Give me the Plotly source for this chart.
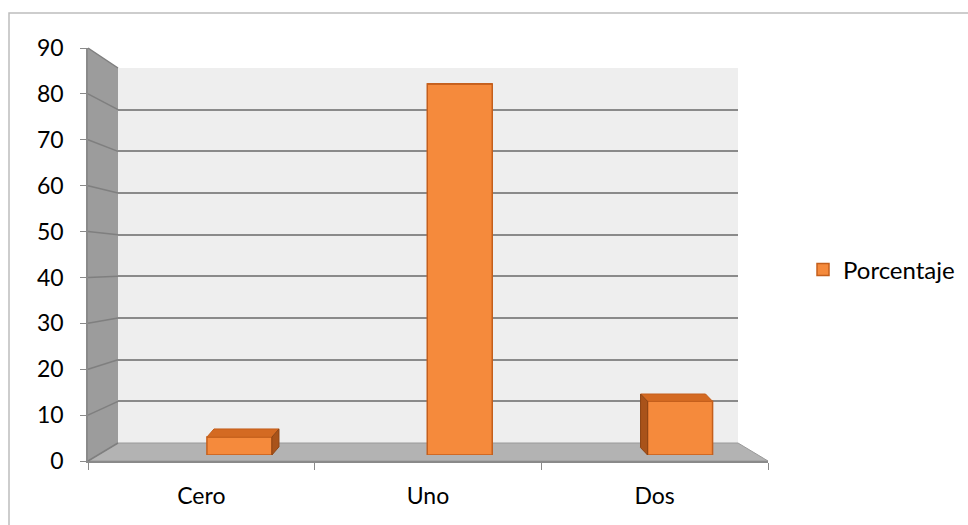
import plotly.graph_objects as go

# ---------------- data ----------------
categories = ["Cero", "Uno", "Dos"]
values = [4, 83, 12]
series_name = "Porcentaje"
y_ticks = [0, 10, 20, 30, 40, 50, 60, 70, 80, 90]

# ---------------- geometry (pixels of the 968x525 page) ----------------
W, H = 968, 525
def px(x):
    return x / W
def py(y):
    return 1 - y / H

# front axis frame
FX0, FX1, FY0, FY90 = 88, 768, 461, 48
# back wall
BX0, BX1, BY0, BY90 = 118, 738, 443, 68
# bar plane
X3L, X3R = 129.25, 790.25
BASE3, SCALE3 = 455, 4.47
Y3TOP = BASE3 - 90 * SCALE3

FONT = "Lato, Calibri, 'Open Sans', sans-serif"
ORANGE = "#F58A3C"
ORANGE_LINE = "#C45F1C"
TOP_FACE = "#D46A22"

fig = go.Figure()

# invisible anchor traces so every axis pair exists
fig.add_trace(go.Scatter(x=[0.5], y=[0], xaxis="x", yaxis="y", mode="markers",
                         marker=dict(opacity=0), showlegend=False, hoverinfo="skip"))
fig.add_trace(go.Scatter(x=categories, y=values, xaxis="x2", yaxis="y2", mode="markers",
                         marker=dict(opacity=0), showlegend=False, hoverinfo="skip"))

# the bars
idx = list(range(len(categories)))
fig.add_trace(go.Bar(x=idx, y=values, xaxis="x3", yaxis="y3", name=series_name,
                     marker=dict(color=ORANGE, line=dict(color=ORANGE_LINE, width=1.5)),
                     width=0.295, showlegend=True))

shapes = []
# outer chart border
shapes.append(dict(type="rect", xref="paper", yref="paper",
                   x0=px(9), x1=px(975), y0=py(13), y1=py(535),
                   line=dict(color="#BDBDBD", width=1.5), fillcolor="rgba(0,0,0,0)",
                   layer="below"))
# back wall
shapes.append(dict(type="rect", xref="paper", yref="paper",
                   x0=px(BX0), x1=px(BX1), y0=py(BY0), y1=py(BY90),
                   line=dict(width=0), fillcolor="#EEEEEE", layer="below"))
# side wall
def poly(points):
    return "M " + " L ".join(f"{px(x):.5f},{py(y):.5f}" for x, y in points) + " Z"
shapes.append(dict(type="path", xref="paper", yref="paper",
                   path=poly([(FX0, FY90), (BX0, BY90), (BX0, BY0), (FX0, FY0)]),
                   line=dict(width=0), fillcolor="#9C9C9C", layer="below"))
# floor
shapes.append(dict(type="path", xref="paper", yref="paper",
                   path=poly([(FX0, FY0), (BX0, BY0), (BX1, BY0), (FX1, FY0)]),
                   line=dict(color="#9A9A9A", width=1), fillcolor="#B3B3B3", layer="below"))
# grid lines on the side wall
for v in y_ticks:
    yf = FY0 - v * (FY0 - FY90) / 90
    yb = BY0 - v * (BY0 - BY90) / 90
    shapes.append(dict(type="line", xref="paper", yref="paper",
                       x0=px(FX0), y0=py(yf), x1=px(BX0), y1=py(yb),
                       line=dict(color="#7F7F7F", width=1.5), layer="below"))

# 3-D faces of the bars (in the bar axes' data units)
cat_px = (X3R - X3L) / len(categories)
bw = 0.295
for i, v in enumerate(values):
    center_px = X3L + (i + 0.5) * cat_px
    dx_px = 0.032 * (460 - center_px)
    top_px = BASE3 - v * SCALE3
    dy_px = (top_px - 70) / 45
    dx = dx_px / cat_px
    dy = dy_px / SCALE3
    x0, x1 = i - bw / 2, i + bw / 2
    top = [(x0, v), (x1, v), (x1 + dx, v + dy), (x0 + dx, v + dy)]
    path = "M " + " L ".join(f"{a:.5f},{b:.5f}" for a, b in top) + " Z"
    shapes.append(dict(type="path", xref="x3", yref="y3", path=path,
                       fillcolor=TOP_FACE, line=dict(color=ORANGE_LINE, width=1)))
    if abs(dx_px) > 1.5:
        xe = x1 if dx > 0 else x0
        side = [(xe, v), (xe + dx, v + dy), (xe + dx, dy), (xe, 0)]
        path = "M " + " L ".join(f"{a:.5f},{b:.5f}" for a, b in side) + " Z"
        shapes.append(dict(type="path", xref="x3", yref="y3", path=path,
                           fillcolor="#A9531A", line=dict(color="#8E4514", width=1)))

fig.update_layout(
    width=W, height=H, autosize=False,
    margin=dict(l=0, r=0, t=0, b=0, pad=0),
    paper_bgcolor="white", plot_bgcolor="rgba(0,0,0,0)",
    font=dict(family=FONT, size=23, color="black"),
    bargap=0.705,
    shapes=shapes,
    showlegend=True,
    legend=dict(x=px(803), y=py(270), xanchor="left", yanchor="middle",
                font=dict(family=FONT, size=24, color="black"),
                bgcolor="rgba(0,0,0,0)"),
    # back wall grid
    xaxis=dict(domain=[px(BX0), px(BX1)], range=[0, 1], showgrid=False, zeroline=False,
               showticklabels=False, ticks="", anchor="y", automargin=False),
    yaxis=dict(domain=[py(BY0), py(BY90)], range=[0, 90], dtick=10, showgrid=True,
               gridcolor="#8A8A8A", gridwidth=1.5, zeroline=False, showticklabels=False,
               ticks="", anchor="x", automargin=False),
    # front axes (labels)
    xaxis2=dict(domain=[px(FX0), px(FX1)], type="category", categoryarray=categories,
                range=[-0.5, 2.5], tickson="boundaries", ticks="outside", ticklen=7,
                tickcolor="#8A8A8A", showline=True, linecolor="#8A8A8A", linewidth=1.5,
                showgrid=False, zeroline=False, anchor="y2", ticklabelstandoff=14,
                automargin=False, tickfont=dict(family=FONT, size=23, color="black")),
    yaxis2=dict(domain=[py(FY0), py(FY90)], range=[0, 90], dtick=10, ticks="outside",
                ticklen=6, tickcolor="#8A8A8A", showline=True, linecolor="#8A8A8A",
                linewidth=1.5, showgrid=False, zeroline=False, anchor="x2",
                ticklabelstandoff=12, automargin=False,
                tickfont=dict(family=FONT, size=23, color="black")),
    # bar plane
    xaxis3=dict(domain=[px(X3L), px(X3R)], range=[-0.5, 2.5], visible=False, anchor="y3",
                automargin=False),
    yaxis3=dict(domain=[py(BASE3), py(Y3TOP)], range=[0, 90], visible=False, anchor="x3",
                automargin=False),
)

fig.write_html("out.html")
